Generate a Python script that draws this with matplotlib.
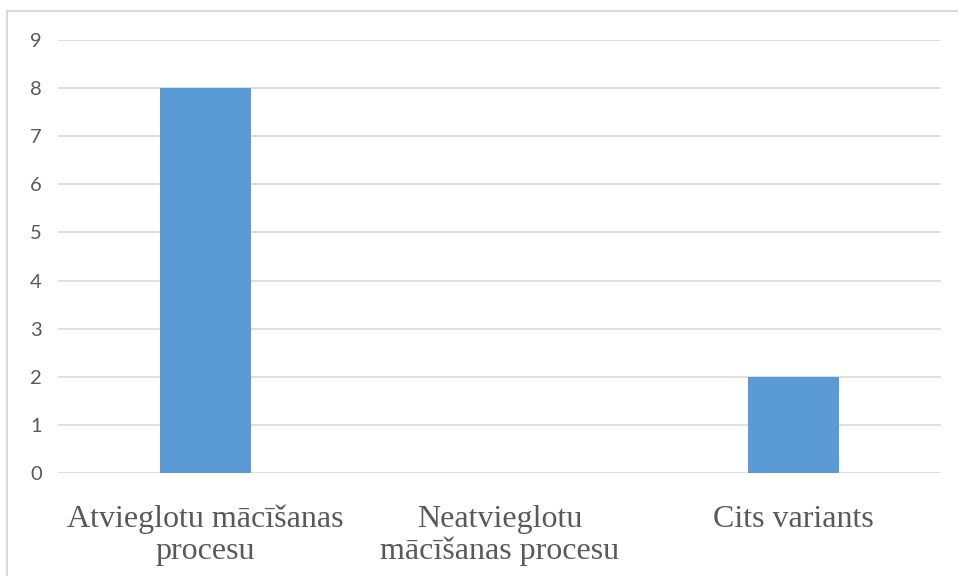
import matplotlib
matplotlib.use('Agg')
import matplotlib.pyplot as plt
from matplotlib.lines import Line2D

# data
categories = ['Atvieglotu mācīšanas\nprocesu', 'Neatvieglotu\nmācīšanas procesu', 'Cits variants']
values = [8, 0, 2]
yticks = list(range(0, 10))

W, H = 958, 576
fig = plt.figure(figsize=(W / 100, H / 100), dpi=100)
ax = fig.add_axes([58 / W, 1 - 473 / H, (941 - 58) / W, (473 - 40) / H])

ax.bar(range(len(categories)), values, width=0.31, color='#5b9bd5', zorder=3)

ax.set_xlim(-0.5, len(categories) - 0.5)
ax.set_ylim(0, 9)
ax.set_yticks(yticks)
ax.yaxis.grid(True, color='#d9d9d9', linewidth=1.2, zorder=0)
for s in ax.spines.values():
    s.set_visible(False)
ax.tick_params(axis='both', length=0)
ax.tick_params(axis='y', pad=20, labelsize=14.5, labelcolor='#595959')
ax.tick_params(axis='x', pad=23, labelcolor='#595959')

ax.set_xticks(range(len(categories)))
ax.set_xticklabels(categories, fontsize=23, family='Liberation Serif', linespacing=1.1)
for lbl in ax.get_yticklabels():
    lbl.set_family('Lato')
    lbl.set_horizontalalignment('left')

# the chart-area border (top and left edges visible)
fig.add_artist(Line2D([7 / W, 7 / W], [0, 1 - 11 / H], color='#d9d9d9', linewidth=1.5))
fig.add_artist(Line2D([7 / W, 1], [1 - 11 / H, 1 - 11 / H], color='#d9d9d9', linewidth=1.5))

fig.savefig('out.png', dpi=100)
